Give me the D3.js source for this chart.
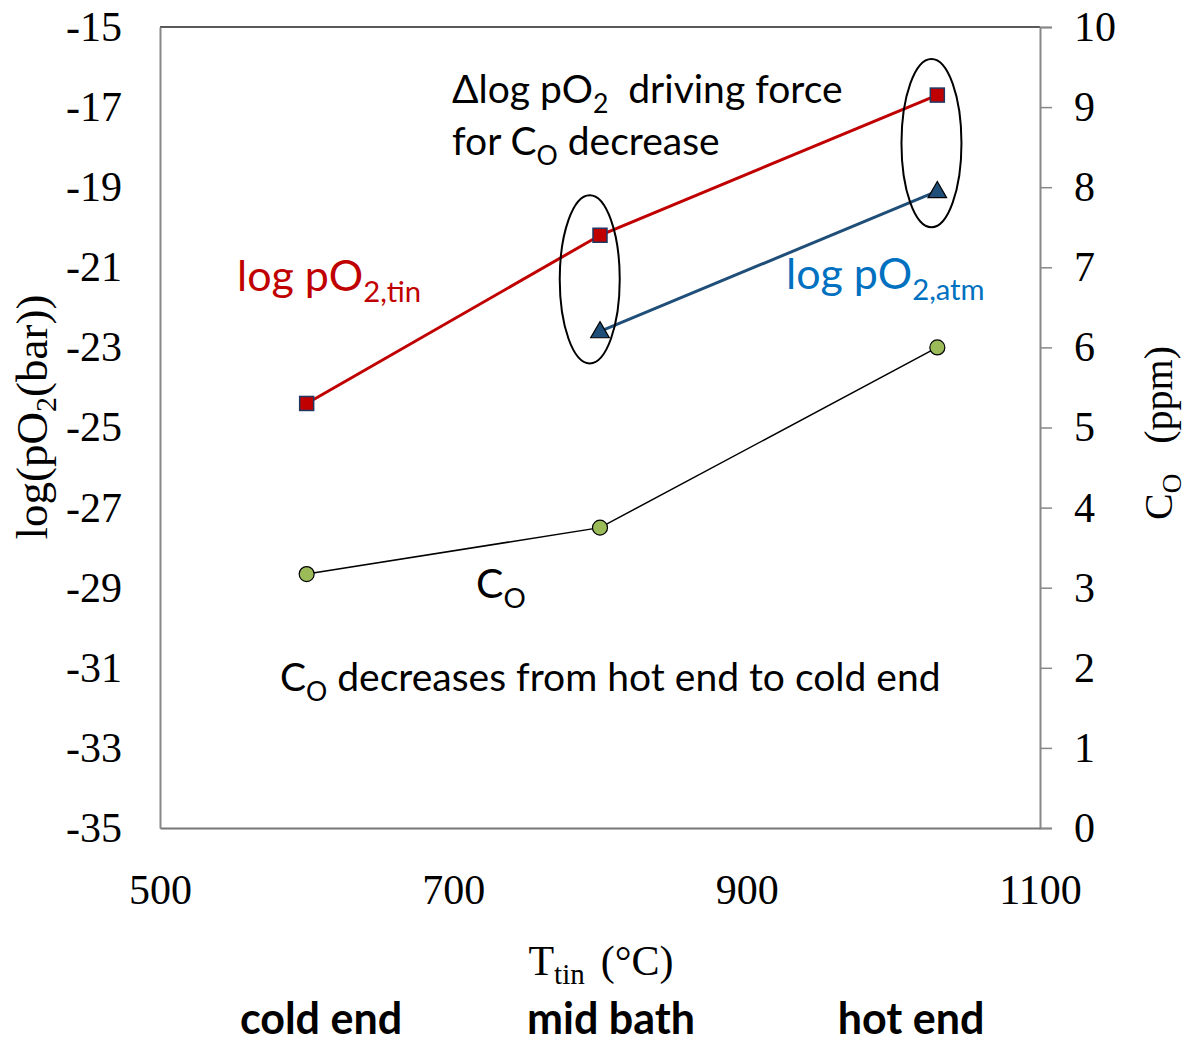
<!DOCTYPE html>
<html>
<head>
<meta charset="utf-8">
<script src="https://cdn.jsdelivr.net/npm/d3@7/dist/d3.min.js"></script>
<style>
  body { margin: 0; background: #fff; }
  svg { display: block; }
</style>
</head>
<body>
<div id="chart"></div>
<script>
// Data
const tinTemps = [600, 800, 1030];
const logPO2Tin = [-24.4, -20.2, -16.7];
const atmTemps = [800, 1030];
const logPO2Atm = [-22.6, -19.1];
const coTemps = [600, 800, 1030];
const coPpm = [3.17, 3.75, 6.0];

const xTicks = [500, 700, 900, 1100];
const yLeftTicks = [-15, -17, -19, -21, -23, -25, -27, -29, -31, -33, -35];
const yRightTicks = [0, 1, 2, 3, 4, 5, 6, 7, 8, 9, 10];
const zoneLabels = ["cold end", "mid bath", "hot end"];

(function () {
  const W = 1189, H = 1043;
  const plot = { left: 160, right: 1040, top: 27, bottom: 828 };

  const svg = d3.select("#chart").append("svg")
    .attr("width", W).attr("height", H);

  const x = d3.scaleLinear().domain([500, 1100]).range([plot.left, plot.right]);
  const yL = d3.scaleLinear().domain([-35, -15]).range([plot.bottom, plot.top]);
  const yR = d3.scaleLinear().domain([0, 10]).range([plot.bottom, plot.top]);

  const serif = "'Liberation Serif', 'Times New Roman', serif";
  const sans = "Lato, 'Open Sans', sans-serif";
  const red = "#C00000", blue = "#1F4E79", green = "#9BBB59";

  // Frame
  svg.append("line").attr("x1", plot.left).attr("x2", plot.right)
    .attr("y1", plot.top).attr("y2", plot.top)
    .attr("stroke", "#222").attr("stroke-width", 1.5);

  // Left axis (no ticks), plain hyphen minus like the original
  const leftAxis = svg.append("g")
    .attr("transform", `translate(${plot.left},0)`)
    .call(d3.axisLeft(yL).tickValues(yLeftTicks).tickSize(0).tickPadding(38)
      .tickFormat((d) => String(d)));
  leftAxis.select(".domain").attr("stroke", "#888").attr("stroke-width", 2);

  // Right axis
  const rightAxis = svg.append("g")
    .attr("transform", `translate(${plot.right},0)`)
    .call(d3.axisRight(yR).tickValues(yRightTicks).tickSizeOuter(0).tickSize(12).tickPadding(22));
  rightAxis.select(".domain").attr("stroke", "#888").attr("stroke-width", 2);
  rightAxis.selectAll(".tick line").attr("stroke", "#888").attr("stroke-width", 1.5);

  // Bottom axis (no ticks)
  const bottomAxis = svg.append("g")
    .attr("transform", `translate(0,${plot.bottom})`)
    .call(d3.axisBottom(x).tickValues(xTicks).tickSize(0).tickPadding(46)
      .tickFormat((d) => String(d)));
  bottomAxis.select(".domain").attr("stroke", "#777").attr("stroke-width", 2);

  svg.selectAll(".tick text")
    .attr("font-family", serif).attr("font-size", 42).attr("fill", "#000");

  // Axis titles
  const lt = svg.append("text")
    .attr("transform", `translate(47,417) rotate(-90)`)
    .attr("text-anchor", "middle")
    .attr("font-family", serif).attr("font-size", 45);
  lt.append("tspan").text("log(pO");
  lt.append("tspan").attr("font-size", 30).attr("dy", 9).text("2");
  lt.append("tspan").attr("dy", -9).text("(bar))");

  const rt = svg.append("text")
    .attr("transform", `translate(1172,433) rotate(-90)`)
    .attr("text-anchor", "middle")
    .attr("font-family", serif).attr("font-size", 40);
  rt.append("tspan").text("C");
  rt.append("tspan").attr("font-size", 27).attr("dy", 9).text("O");
  rt.append("tspan").attr("dy", -9).attr("xml:space", "preserve").text("   (ppm)");

  const bt = svg.append("text")
    .attr("x", 601).attr("y", 975)
    .attr("text-anchor", "middle")
    .attr("font-family", serif).attr("font-size", 42);
  bt.append("tspan").text("T");
  bt.append("tspan").attr("font-size", 29).attr("dy", 9).text("tin");
  bt.append("tspan").attr("dy", -9).attr("dx", 16).text("(°C)");

  // Lines
  const line = d3.line();
  svg.append("path")
    .attr("d", line(tinTemps.map((t, i) => [x(t), yL(logPO2Tin[i])])))
    .attr("fill", "none").attr("stroke", red).attr("stroke-width", 3);
  svg.append("path")
    .attr("d", line(atmTemps.map((t, i) => [x(t), yL(logPO2Atm[i])])))
    .attr("fill", "none").attr("stroke", blue).attr("stroke-width", 3);
  svg.append("path")
    .attr("d", line(coTemps.map((t, i) => [x(t), yR(coPpm[i])])))
    .attr("fill", "none").attr("stroke", "#000").attr("stroke-width", 1.5);

  // Markers
  svg.selectAll(".sq").data(tinTemps).enter().append("rect")
    .attr("x", (d) => x(d) - 7).attr("y", (d, i) => yL(logPO2Tin[i]) - 7)
    .attr("width", 14).attr("height", 14)
    .attr("fill", red).attr("stroke", "#1F3864").attr("stroke-width", 1.5);

  const tri = d3.symbol().type(d3.symbolTriangle).size(150);
  svg.selectAll(".tri").data(atmTemps).enter().append("path")
    .attr("d", tri)
    .attr("transform", (d, i) => `translate(${x(d)},${yL(logPO2Atm[i]) + 1})`)
    .attr("fill", blue).attr("stroke", "#000").attr("stroke-width", 1.2);

  svg.selectAll(".dot").data(coTemps).enter().append("circle")
    .attr("cx", (d) => x(d)).attr("cy", (d, i) => yR(coPpm[i]))
    .attr("r", 7.5)
    .attr("fill", green).attr("stroke", "#000").attr("stroke-width", 1.2);

  // Ellipses around the pO2 gap
  const ellipses = [
    { t: 793, top: -19.2, bottom: -23.4 },
    { t: 1026, top: -15.8, bottom: -20.0 }
  ];
  svg.selectAll(".ell").data(ellipses).enter().append("ellipse")
    .attr("cx", (d) => x(d.t))
    .attr("cy", (d) => (yL(d.top) + yL(d.bottom)) / 2)
    .attr("rx", 30)
    .attr("ry", (d) => (yL(d.bottom) - yL(d.top)) / 2)
    .attr("fill", "none").attr("stroke", "#000").attr("stroke-width", 2);

  // Annotations
  function subText(xp, yp, parts, opts) {
    const size = opts.size || 39;
    const t = svg.append("text")
      .attr("x", xp).attr("y", yp)
      .attr("font-family", sans).attr("font-size", size)
      .attr("fill", opts.color || "#000")
      .attr("font-weight", opts.weight || "normal");
    let shift = 0;
    parts.forEach((p) => {
      const s = t.append("tspan").text(p.text).attr("xml:space", "preserve");
      if (p.sub && shift === 0) { shift = Math.round(size * 0.25); s.attr("dy", shift).attr("font-size", size * 0.68); }
      else if (!p.sub && shift !== 0) { s.attr("dy", -shift); shift = 0; }
    });
    return t;
  }

  subText(452, 103, [{ text: "Δlog pO" }, { text: "2", sub: true }, { text: "  driving force" }], {});
  subText(452, 155, [{ text: "for C" }, { text: "O", sub: true }, { text: " decrease" }], {});
  subText(237, 291, [{ text: "log pO" }, { text: "2,tin", sub: true }], { color: red, size: 43 });
  subText(786, 289, [{ text: "log pO" }, { text: "2,atm", sub: true }], { color: "#0070C0", size: 43 });
  subText(476, 598, [{ text: "C" }, { text: "O", sub: true }], { size: 41 });
  subText(280, 691, [{ text: "C" }, { text: "O", sub: true }, { text: " decreases from hot end to cold end" }], {});

  const zoneX = [321, 611, 911];
  svg.selectAll(".zone").data(zoneLabels).enter().append("text")
    .attr("x", (d, i) => zoneX[i]).attr("y", 1034)
    .attr("text-anchor", "middle")
    .attr("font-family", sans).attr("font-weight", "bold").attr("font-size", 43)
    .text((d) => d);
})();
</script>
</body>
</html>
